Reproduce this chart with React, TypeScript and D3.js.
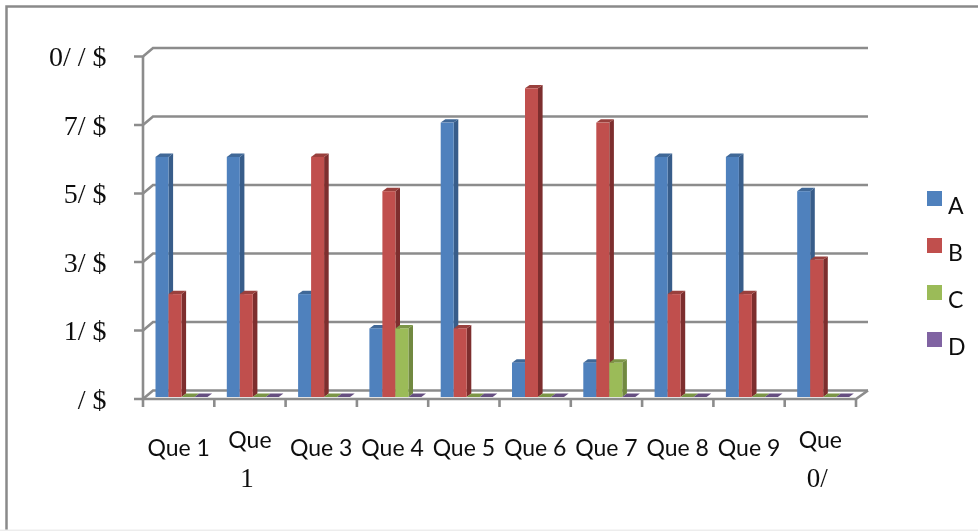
import React from "react";
import * as d3 from "d3";

const categories = ["Que 1", "Que 2", "Que 3", "Que 4", "Que 5", "Que 6", "Que 7", "Que 8", "Que 9", "Que 10"];
const catLines: string[][] = [["Que 1"], ["Que", "1"], ["Que 3"], ["Que 4"], ["Que 5"], ["Que 6"], ["Que 7"], ["Que 8"], ["Que 9"], ["Que", "0/"]];
const seriesNames = ["A", "B", "C", "D"];
const valuesA = [7, 7, 3, 2, 8, 1, 1, 7, 7, 6];
const valuesB = [3, 3, 7, 6, 2, 9, 8, 3, 3, 4];
const valuesC = [0, 0, 0, 2, 0, 0, 1, 0, 0, 0];
const valuesD = [0, 0, 0, 0, 0, 0, 0, 0, 0, 0];
const yTicks = [0, 2, 4, 6, 8, 10];
const yTickLabels = ["/ $", "1/ $", "3/ $", "5/ $", "7/ $", "0/ / $"];
const front = ["#4F81BD", "#C0504D", "#9BBB59", "#8064A2"];
const side = ["#385D8A", "#7D2F2D", "#71893F", "#5C4776"];
const cap = ["#3F6797", "#99403D", "#7C9647", "#664F81"];
const allValues = [valuesA, valuesB, valuesC, valuesD];

const GRID = "#8C8C8C";

export default function App() {
  const y = d3.scaleLinear().domain([0, 10]).range([399, 56.5]);
  const x = d3.scaleBand<number>().domain(d3.range(categories.length)).range([143, 856]);
  const barBase = 397;
  const barH = 34.3;
  const barY = (v: number) => barBase - v * barH;
  const sx = d3.scaleBand<number>().domain(d3.range(4)).range([0, 52]);
  const wx = 10, wy = -8.5;
  const dx = 4.6, dy = -3.4;
  const bw = sx.bandwidth();
  const pathOf = (pts: number[][]) => d3.line()(pts as [number, number][])! + "Z";
  return (
    <svg width={978} height={531} style={{ position: "fixed", left: 0, top: 0, background: "#fff" }}>
      <defs>
        <filter id="soft" x="-2%" y="-2%" width="104%" height="104%">
          <feGaussianBlur stdDeviation="0.5" />
        </filter>
      </defs>
      <g filter="url(#soft)">
        <rect x={6.5} y={6.5} width={985} height={540} fill="none" stroke="#8a8a8a" strokeWidth={2.5} />
        <rect x={0} y={529.5} width={978} height={1.5} fill="#ededed" />
        {yTicks.map((t) => (
          <path key={t} fill="none" stroke={GRID} strokeWidth={2.6}
            d={pathOf([[134, y(t)], [143, y(t)], [143 + wx, y(t) + wy], [868, y(t) + wy]]).replace("Z", "")} />
        ))}
        <path fill="none" stroke={GRID} strokeWidth={2.6} d={`M143,${y(10)}V${y(0)}H856L868,${y(0) + wy}`} />
        {d3.range(categories.length + 1).map((i) => {
          const tx = 143 + i * x.step();
          return <line key={i} x1={tx} x2={tx} y1={y(0)} y2={407} stroke={GRID} strokeWidth={2.6} />;
        })}
        {categories.map((_, ci) => (
          <g key={ci}>
            {allValues.map((vals, si) => {
              const x0 = x(ci)! + 12.5 + sx(si)!;
              const x1 = x0 + bw;
              const top = barY(vals[ci]);
              return (
                <g key={si}>
                  <path fill={side[si]} d={pathOf([[x1, top], [x1 + dx, top + dy], [x1 + dx, barBase + dy], [x1, barBase]])} />
                  <path fill={cap[si]} d={pathOf([[x0, top], [x0 + dx, top + dy], [x1 + dx, top + dy], [x1, top]])} />
                  <rect x={x0} y={top} width={bw} height={barBase - top} fill={front[si]} />
                </g>
              );
            })}
          </g>
        ))}
        {yTicks.map((t, i) => (
          <text key={t} x={106.5} y={y(t) + 9.5} textAnchor="end" fontFamily="'Liberation Serif'" fontSize={28} fill="#111" xmlSpace="preserve">{yTickLabels[i]}</text>
        ))}
        {catLines.map((lines, i) => {
          const cx = x(i)! + x.bandwidth() / 2;
          if (lines.length === 1) {
            return <text key={i} x={cx} y={455.5} textAnchor="middle" fontFamily="Lato" fontSize={23} fill="#111">{lines[0]}</text>;
          }
          return (
            <g key={i}>
              <text x={cx} y={448} textAnchor="middle" fontFamily="Lato" fontSize={23} fill="#111">{lines[0]}</text>
              <text x={cx - 3} y={487} textAnchor="middle" fontFamily="'Liberation Serif'" fontSize={27} fill="#111">{lines[1]}</text>
            </g>
          );
        })}
        {seriesNames.map((s, i) => (
          <g key={s}>
            <rect x={927} y={191 + i * 47} width={15} height={15} fill={front[i]} />
            <text x={948} y={213.5 + i * 47} fontFamily="Lato" fontSize={23} fill="#111">{s}</text>
          </g>
        ))}
      </g>
    </svg>
  );
}
